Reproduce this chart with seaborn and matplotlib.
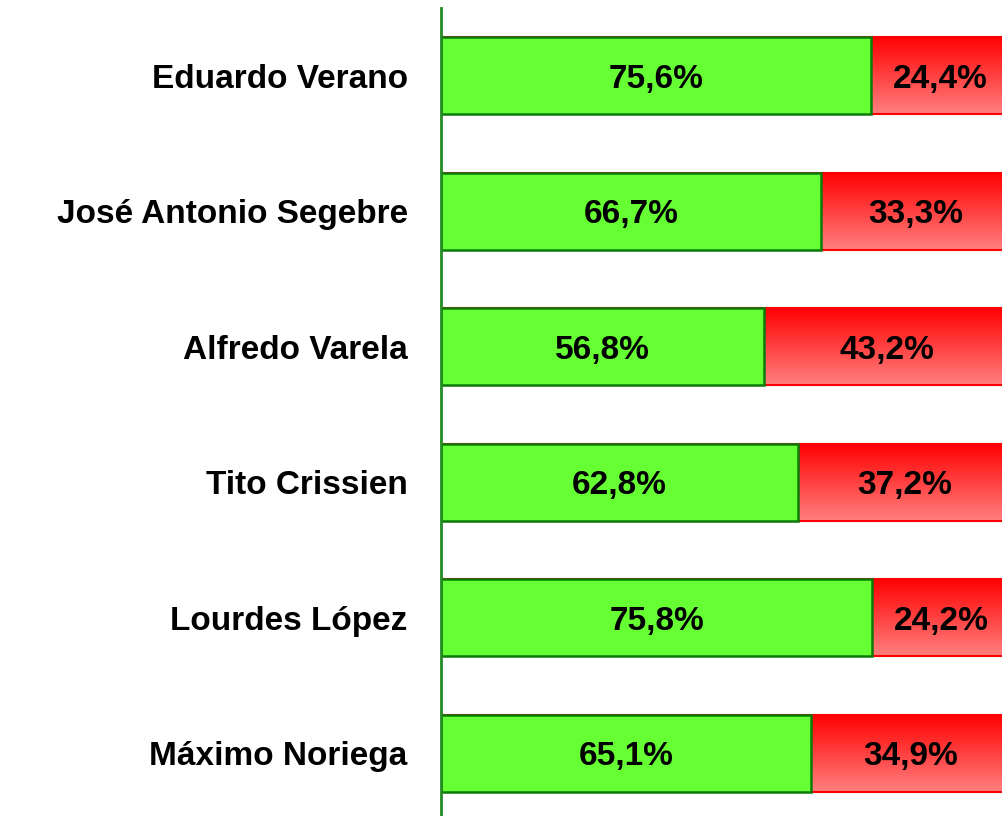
import numpy as np
import pandas as pd
import matplotlib
matplotlib.use("Agg")
import matplotlib.pyplot as plt
import seaborn as sns

candidates = ["Eduardo Verano", "José Antonio Segebre", "Alfredo Varela",
              "Tito Crissien", "Lourdes López", "Máximo Noriega"]
favorable = [75.6, 66.7, 56.8, 62.8, 75.8, 65.1]
unfavorable = [24.4, 33.3, 43.2, 37.2, 24.2, 34.9]

df = pd.DataFrame({"candidate": candidates,
                   "favorable": favorable,
                   "unfavorable": unfavorable})
df["total"] = df["favorable"] + df["unfavorable"]

sns.set_style("white")
plt.rcParams["font.family"] = ["Liberation Sans", "DejaVu Sans"]

fig = plt.figure(figsize=(10.02, 8.16), dpi=100)
ax = fig.add_axes([441 / 1002, -5 / 816, 569 / 1002, 813 / 816])

bar_w = 0.57
# red (total) underneath, green on top
sns.barplot(data=df, x="total", y="candidate", orient="h", color="#ff0000",
            width=bar_w, saturation=1, edgecolor="#ff0000", linewidth=1.5, ax=ax)
n_red = len(ax.patches)
sns.barplot(data=df, x="favorable", y="candidate", orient="h", color="#66ff33",
            width=bar_w, saturation=1, edgecolor="#0a7a0a", linewidth=1.8, ax=ax)

ax.set_xlim(0, 100)
ax.set_ylim(len(candidates) - 0.5, -0.5)

# vertical gradient for red segments
grad = np.linspace(0, 1, 256).reshape(-1, 1)
cmap = matplotlib.colors.LinearSegmentedColormap.from_list("redgrad", ["#ff0000", "#ff8080"])
for i, p in enumerate(ax.patches[:n_red]):
    y0 = p.get_y()
    h = p.get_height()
    x0 = df["favorable"][i]
    im = ax.imshow(grad, cmap=cmap, aspect="auto", extent=[x0, 100, y0 + h, y0],
                   zorder=2.5, interpolation="bicubic")
    im.set_clip_path(p)
    p.set_facecolor("none")

for p in ax.patches[:n_red]:
    p.set_zorder(3)
for p in ax.patches[n_red:]:
    p.set_zorder(4)

for i in range(len(candidates)):
    f = df["favorable"][i]
    u = df["unfavorable"][i]
    ax.text(f / 2, i + 0.025, f"{f:.1f}%".replace(".", ","), ha="center", va="center",
            fontsize=24, fontweight="bold", color="black", zorder=6)
    ax.text(f + u / 2, i + 0.025, f"{u:.1f}%".replace(".", ","), ha="center", va="center",
            fontsize=24, fontweight="bold", color="black", zorder=6)

ax.set_xlabel("")
ax.set_ylabel("")
ax.set_xticks([])
ax.tick_params(axis="y", length=0, pad=24, labelsize=24, labelcolor="black")
for lbl in ax.get_yticklabels():
    lbl.set_fontweight("bold")
for s in ["top", "right", "bottom"]:
    ax.spines[s].set_visible(False)
ax.spines["left"].set_color("#228b22")
ax.spines["left"].set_linewidth(2)
ax.spines["left"].set_zorder(7)

fig.savefig("out.png", dpi=100)
